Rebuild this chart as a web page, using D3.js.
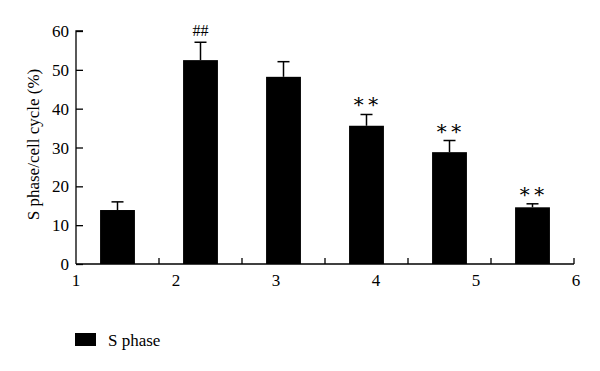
<!DOCTYPE html>
<html><head><meta charset="utf-8">
<script src="https://cdn.jsdelivr.net/npm/d3@7"></script>
<style>body{margin:0;background:#fff}svg{display:block}text{font-family:"Liberation Serif","DejaVu Serif",serif;fill:#000}</style>
</head><body>
<svg id="c" width="600" height="371"></svg>
<script>
const groups = [1, 2, 3, 4, 5, 6];
const values = [13.9, 52.5, 48.2, 35.6, 28.8, 14.6];
const errors = [2.1, 4.6, 3.9, 2.9, 3.0, 0.9];
const marks = ["", "##", "", "**", "**", "**"];
const yTicks = [0, 10, 20, 30, 40, 50, 60];
const xTickLabels = [1, 2, 3, 4, 5, 6];
const seriesName = "S phase";
const yLabel = "S phase/cell cycle (%)";

const svg = d3.select("#c");
const L = 76, R = 574, T = 31, B = 264;
const y = d3.scaleLinear().domain([0, 60]).range([B, T]);
const xb = d3.scaleBand().domain(groups).range([L, R]).paddingInner(0.58).paddingOuter(0.29);
const xl = d3.scaleLinear().domain([1, 6]).range([L, L + 500]);

// y axis
const ya = svg.append("g").attr("transform", `translate(${L},0)`)
  .call(d3.axisRight(y).tickValues(yTicks).tickSize(7).tickFormat(""));
ya.select(".domain").attr("stroke", "#000").attr("stroke-width", 1.3).attr("d", `M7,${T}H0V${B}`);
ya.selectAll(".tick line").attr("stroke", "#000").attr("stroke-width", 1.3);
svg.append("g").selectAll("text").data(yTicks).join("text")
  .attr("x", L - 7).attr("y", d => y(d) + 6).attr("text-anchor", "end")
  .attr("font-size", 17).text(d => d);

// x axis line
svg.append("line").attr("x1", L).attr("x2", R).attr("y1", B).attr("y2", B)
  .attr("stroke", "#000").attr("stroke-width", 1.3);
svg.append("g").selectAll("line").data(groups).join("line")
  .attr("x1", g => xb(g) + xb.bandwidth() / 2 + xb.step() / 2)
  .attr("x2", g => xb(g) + xb.bandwidth() / 2 + xb.step() / 2)
  .attr("y1", B).attr("y2", B - 6).attr("stroke", "#000").attr("stroke-width", 1.3);
svg.append("g").selectAll("text").data(xTickLabels).join("text")
  .attr("x", d => xl(d)).attr("y", B + 22).attr("text-anchor", "middle")
  .attr("font-size", 17).text(d => d);

// error bars
const eb = svg.append("g").attr("stroke", "#000").attr("stroke-width", 1.5);
groups.forEach((g, i) => {
  const cx = xb(g) + xb.bandwidth() / 2;
  eb.append("line").attr("x1", cx).attr("x2", cx).attr("y1", y(values[i])).attr("y2", y(values[i] + errors[i]));
  eb.append("line").attr("x1", cx - 6).attr("x2", cx + 6).attr("y1", y(values[i] + errors[i])).attr("y2", y(values[i] + errors[i]));
});

// bars
svg.append("g").selectAll("rect").data(groups).join("rect")
  .attr("x", g => xb(g)).attr("width", xb.bandwidth())
  .attr("y", (g, i) => y(values[i])).attr("height", (g, i) => B - y(values[i]))
  .attr("fill", "#000");

// significance marks
svg.append("g").selectAll("text").data(groups).join("text")
  .attr("x", g => xb(g) + xb.bandwidth() / 2)
  .attr("y", (g, i) => y(values[i] + errors[i]) - 6)
  .attr("text-anchor", "middle")
  .attr("font-size", (g, i) => marks[i] === "##" ? 16 : 20)
  .attr("letter-spacing", (g, i) => marks[i] === "##" ? 0 : 1)
  .text((g, i) => marks[i] === "##" ? "##" : (marks[i] ? "\u2217\u2217" : ""));

// y label
svg.append("text").attr("transform", `translate(39,${(T + B) / 2 - 3}) rotate(-90)`)
  .attr("text-anchor", "middle").attr("font-size", 17).text(yLabel);

// legend
svg.append("rect").attr("x", 75).attr("y", 333).attr("width", 21).attr("height", 13).attr("fill", "#000");
svg.append("text").attr("x", 108).attr("y", 346).attr("font-size", 17).text(seriesName);
</script>
</body></html>
